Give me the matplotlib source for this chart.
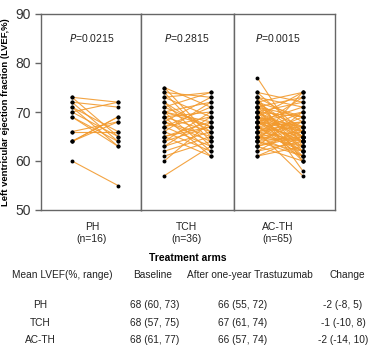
import matplotlib
matplotlib.use('Agg')
import matplotlib.pyplot as plt

plt.rcParams['font.family'] = ['Liberation Sans', 'DejaVu Sans']

# Treatment arms
arms = ['PH', 'TCH', 'AC-TH']
arm_n = [16, 36, 65]
p_values = ['0.0215', '0.2815', '0.0015']

# Paired LVEF values (baseline -> after one-year trastuzumab)
ph_base = [73, 73, 72, 72, 71, 71, 70, 70, 69, 69, 66, 66, 64, 64, 64, 60]
ph_after = [65, 72, 64, 71, 63, 66, 65, 72, 64, 63, 68, 66, 69, 69, 68, 55]

tch_base = [75, 75, 74, 74, 73, 73, 72, 72, 71, 71, 70, 70, 70, 69, 69, 69, 68, 68,
            68, 67, 67, 67, 66, 66, 65, 65, 65, 64, 64, 63, 63, 62, 61, 60, 57, 70]
tch_after = [65, 71, 64, 73, 69, 74, 66, 63, 67, 74, 62, 68, 72, 61, 70, 66, 73, 64,
             65, 63, 69, 71, 62, 72, 68, 61, 67, 70, 67, 69, 66, 65, 64, 68, 63, 67]

acth_base = [77, 74, 74, 73, 73, 73, 72, 72, 72, 72, 71, 71, 71, 71, 70, 70, 70, 70,
             70, 69, 69, 69, 69, 69, 68, 68, 68, 68, 68, 68, 67, 67, 67, 67, 67, 66,
             66, 66, 66, 66, 65, 65, 65, 65, 64, 64, 64, 64, 63, 63, 63, 62, 62, 61,
             61, 68, 69, 70, 67, 66, 65, 71, 72, 64, 63]
acth_after = [63, 66, 72, 60, 71, 68, 74, 65, 62, 69, 73, 64, 67, 58, 72, 66, 61, 69,
              64, 74, 63, 67, 65, 60, 71, 66, 62, 70, 64, 67, 73, 63, 65, 61, 68, 70,
              64, 62, 67, 57, 69, 63, 66, 61, 74, 65, 62, 68, 66, 60, 70, 64, 67, 65,
              63, 64, 66, 65, 62, 68, 64, 69, 66, 61, 65]

base_all = [ph_base, tch_base, acth_base]
after_all = [ph_after, tch_after, acth_after]

# Summary table
table_header = ['Mean LVEF(%, range)', 'Baseline', 'After one-year Trastuzumab', 'Change']
table_baseline = ['68 (60, 73)', '68 (57, 75)', '68 (61, 77)']
table_after = ['66 (55, 72)', '67 (61, 74)', '66 (57, 74)']
table_change = ['-2 (-8, 5)', '-1 (-10, 8)', '-2 (-14, 10)']

# layout of each panel (fractions of panel width)
x_left = [0.31, 0.25, 0.23]
x_right = [0.77, 0.75, 0.68]
x_center = [0.51, 0.49, 0.43]

line_color = '#F29A2E'
spine_color = '#666666'
text_color = '#222222'

fig = plt.figure(figsize=(3.77, 3.49), dpi=100)
gs = fig.add_gridspec(1, 3, left=41/377, right=335/377, bottom=1-210/349, top=1-14/349,
                      wspace=0, width_ratios=[100, 93, 101])

for i in range(3):
    ax = fig.add_subplot(gs[0, i])
    for b, a in zip(base_all[i], after_all[i]):
        ax.plot([x_left[i], x_right[i]], [b, a], color=line_color, lw=0.8, alpha=0.9, zorder=2)
    ax.scatter([x_left[i]] * len(base_all[i]), base_all[i], s=8, color='black', zorder=3, lw=0)
    ax.scatter([x_right[i]] * len(after_all[i]), after_all[i], s=8, color='black', zorder=3, lw=0)
    ax.text(x_center[i], 85, '$P$=' + p_values[i], ha='center', va='center', fontsize=7.5,
            color=text_color)
    ax.set_xlim(0, 1)
    ax.set_ylim(50, 90)
    ax.set_xticks([x_center[i]])
    ax.set_xticklabels(['%s\n(n=%d)' % (arms[i], arm_n[i])], fontsize=7.5, color=text_color)
    ax.tick_params(axis='x', length=0, pad=9)
    for s in ax.spines.values():
        s.set_color(spine_color)
        s.set_linewidth(1.0)
    if i == 0:
        ax.set_yticks([50, 60, 70, 80, 90])
        ax.tick_params(axis='y', labelsize=10, length=4, width=1, color=spine_color,
                       labelcolor='#333333')
        ax.set_ylabel('Left ventricular ejection fraction (LVEF,%)', fontsize=6.8,
                      fontweight='bold', labelpad=4)
    else:
        ax.set_yticks([])

fig.text((41 + 335) / 2 / 377, 1 - 258/349, 'Treatment arms', ha='center', va='center',
         fontsize=7.5, fontweight='bold')

# table below the chart
col_x = [62, 153, 250, 347]
row_y = [275, 305, 323, 340]
for j, h in enumerate(table_header):
    fig.text(col_x[j] / 377, 1 - row_y[0] / 349, h, ha='center', va='center', fontsize=7.3,
             color=text_color)
for r in range(3):
    y = 1 - row_y[r + 1] / 349
    fig.text(40 / 377, y, arms[r], ha='center', va='center', fontsize=7.3, color=text_color)
    fig.text(155 / 377, y, table_baseline[r], ha='center', va='center', fontsize=7.3,
             color=text_color)
    fig.text(243 / 377, y, table_after[r], ha='center', va='center', fontsize=7.3,
             color=text_color)
    fig.text(343 / 377, y, table_change[r], ha='center', va='center', fontsize=7.3,
             color=text_color)

fig.savefig('out.png', dpi=100)
